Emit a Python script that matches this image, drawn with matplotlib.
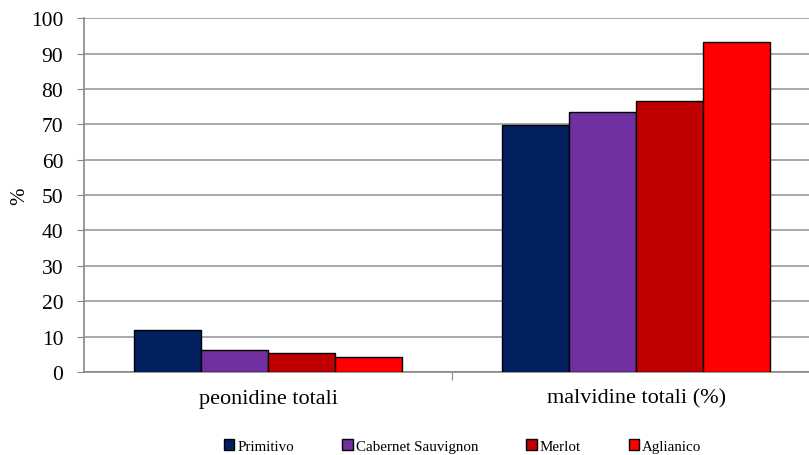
import matplotlib.pyplot as plt
import numpy as np

plt.rcParams['font.family'] = ['Liberation Serif', 'DejaVu Serif']

categories = ['peonidine totali', 'malvidine totali (%)']
varieties = ['Primitivo', 'Cabernet Sauvignon', 'Merlot', 'Aglianico']
values = {
    'Primitivo': [11.9, 69.8],
    'Cabernet Sauvignon': [6.2, 73.4],
    'Merlot': [5.4, 76.6],
    'Aglianico': [4.2, 93.2],
}
colors = ['#002060', '#7030A0', '#C00000', '#FF0000']

fig = plt.figure(figsize=(8.09, 4.56), dpi=100)
ax = fig.add_axes([0.104, 0.182, 0.91, 0.776])

x = np.arange(len(categories))
w = 0.182
for i, (name, c) in enumerate(zip(varieties, colors)):
    ax.bar(x + (i - 1.5) * w, values[name], w, color=c, edgecolor='black',
           linewidth=1.0, label=name, zorder=3)

ax.set_xlim(-0.5, 1.5)
ax.set_ylim(0, 100)
ax.set_yticks(range(0, 101, 10))
ax.yaxis.grid(True, color='#999999', linewidth=1.2, zorder=0)
ax.tick_params(axis='y', labelsize=15.5, length=5, color='#888888',
               direction='out', pad=10)

# separator tick between the two groups, labels centred under each group
ax.set_xticks([0.5])
ax.set_xticklabels([''])
ax.tick_params(axis='x', length=6, color='#888888')
ax.set_xticks(x, minor=True)
ax.set_xticklabels(categories, minor=True, fontsize=16)
ax.tick_params(axis='x', which='minor', length=0, pad=12)

for s in ['top', 'right']:
    ax.spines[s].set_visible(False)
for s in ['left', 'bottom']:
    ax.spines[s].set_color('#888888')
    ax.spines[s].set_linewidth(1.2)

ax.set_ylabel('%', fontsize=15)
ax.yaxis.set_label_coords(-0.075, 0.5)

fig.legend(loc='lower center', bbox_to_anchor=(0.572, -0.025), ncol=4, frameon=False,
           fontsize=10.8, handlelength=0.7, handleheight=0.7, handletextpad=0.2,
           columnspacing=3.2)

fig.savefig('out.png', dpi=100)
